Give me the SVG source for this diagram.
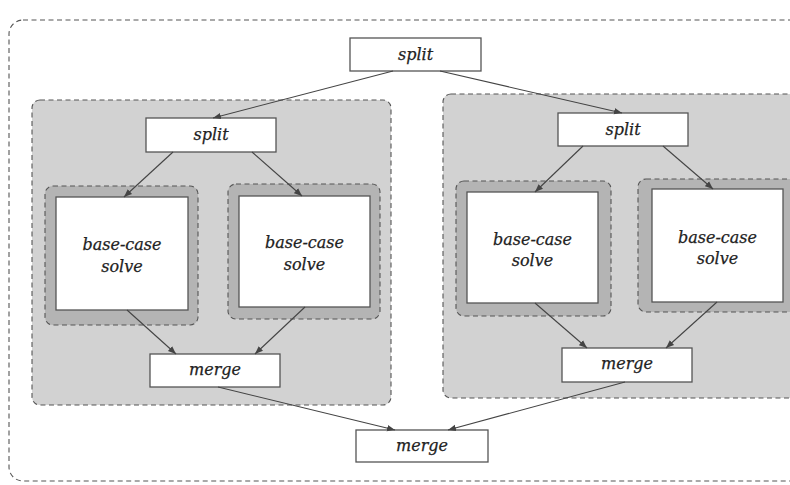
<svg xmlns="http://www.w3.org/2000/svg" width="790" height="485" viewBox="0 0 790 485">
<style>
.outer{fill:#ffffff;stroke:#555;stroke-width:1.1;stroke-dasharray:5 3.5}
.grp{fill:#d2d2d2;stroke:#555;stroke-width:1.1;stroke-dasharray:5 3.5}
.sub{fill:#b4b4b4;stroke:#555;stroke-width:1.1;stroke-dasharray:5 3.5}
.box{fill:#ffffff;stroke:#555;stroke-width:1.3}
.lbl{font-family:"DejaVu Serif",serif;font-style:italic;font-size:16px;fill:#222;stroke:#222;stroke-width:0.25;text-anchor:middle}
.edge{stroke:#444;stroke-width:1.1;fill:none;marker-end:url(#ah)}
</style>
<defs>
<marker id="ah" viewBox="0 0 10 10" refX="10" refY="5" markerWidth="8" markerHeight="8" markerUnits="userSpaceOnUse" orient="auto">
<path d="M0,1 L10,5 L0,9 Z" fill="#444"/>
</marker>
</defs>
<rect width="790" height="485" fill="#ffffff"/>
<rect class="outer" x="9" y="20" width="800" height="461" rx="14"/>
<g id="group-left"><rect class="grp" x="32" y="100" width="359" height="305" rx="8"/></g>
<g id="group-right"><rect class="grp" x="443" y="94" width="360" height="304" rx="8"/></g>
<g id="split-top"><rect class="box" x="350" y="38" width="131" height="33"/><text class="lbl" x="415.5" y="60">split</text></g>
<g id="split-left"><rect class="box" x="146" y="118" width="130" height="34"/><text class="lbl" x="211" y="140">split</text></g>
<g id="split-right"><rect class="box" x="558" y="113" width="130" height="33"/><text class="lbl" x="623" y="135">split</text></g>
<g id="solve-l1"><rect class="sub" x="45" y="186" width="153" height="139" rx="8"/><rect class="box" x="56" y="197" width="132" height="113"/><text class="lbl" x="122" y="250">base-case</text><text class="lbl" x="122" y="272">solve</text></g>
<g id="solve-l2"><rect class="sub" x="228" y="184" width="152" height="135" rx="8"/><rect class="box" x="239" y="196" width="131" height="111"/><text class="lbl" x="304.5" y="248">base-case</text><text class="lbl" x="304.5" y="270">solve</text></g>
<g id="solve-r1"><rect class="sub" x="456" y="181" width="155" height="135" rx="8"/><rect class="box" x="467" y="192" width="131" height="111"/><text class="lbl" x="532.5" y="245">base-case</text><text class="lbl" x="532.5" y="266">solve</text></g>
<g id="solve-r2"><rect class="sub" x="638" y="179" width="160" height="133" rx="8"/><rect class="box" x="652" y="189" width="131" height="113"/><text class="lbl" x="717.5" y="243">base-case</text><text class="lbl" x="717.5" y="264">solve</text></g>
<g id="merge-left"><rect class="box" x="150" y="354" width="130" height="33"/><text class="lbl" x="215" y="375">merge</text></g>
<g id="merge-right"><rect class="box" x="562" y="348" width="130" height="34"/><text class="lbl" x="627" y="369">merge</text></g>
<g id="merge-bottom"><rect class="box" x="356" y="430" width="132" height="32"/><text class="lbl" x="422" y="451">merge</text></g>
<g id="connectors">
<line class="edge" x1="393" y1="71" x2="213" y2="118"/>
<line class="edge" x1="440" y1="71" x2="622" y2="113"/>
<line class="edge" x1="173" y1="152" x2="124" y2="197"/>
<line class="edge" x1="252" y1="152" x2="302" y2="196"/>
<line class="edge" x1="583" y1="146" x2="535" y2="192"/>
<line class="edge" x1="663" y1="146" x2="713" y2="189"/>
<line class="edge" x1="127" y1="310" x2="176" y2="354"/>
<line class="edge" x1="305" y1="307" x2="255" y2="354"/>
<line class="edge" x1="535" y1="303" x2="587" y2="348"/>
<line class="edge" x1="717" y1="302" x2="666" y2="348"/>
<line class="edge" x1="218" y1="387" x2="395" y2="430"/>
<line class="edge" x1="625" y1="382" x2="448" y2="430"/>
</g>
</svg>
